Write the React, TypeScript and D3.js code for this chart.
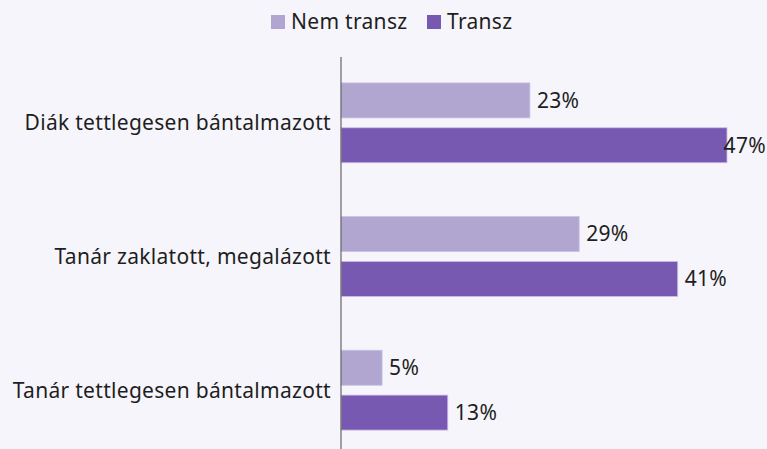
import * as d3 from 'd3';

const categories = ['Diák tettlegesen bántalmazott', 'Tanár zaklatott, megalázott', 'Tanár tettlegesen bántalmazott'];
const seriesNames = ['Nem transz', 'Transz'];
const nemTransz = [23, 29, 5];
const transz = [47, 41, 13];
const colors = ['#b0a6d0', '#7759b1'];

const width = 767;
const height = 449;
const font = "'Noto Sans', sans-serif";
const fs = 21;

export default function App() {
    const x = d3.scaleLinear([0, 47], [341, 727]);
    const y = d3.scaleBand(categories, [56, 457]).paddingInner(0).paddingOuter(0);
    const inner = d3.scaleBand(seriesNames, [0, y.bandwidth()]).paddingInner(0.22).paddingOuter(0.6);
    const values = [nemTransz, transz];

    // push label left when it would run off the right edge
    const labelPos = (v: number) => {
        const w = String(v).length * 12.5 + 20;
        const x0 = x(v) + 7;
        return x0 + w > width - 1 ? { x: width - 1, anchor: 'end' } : { x: x0, anchor: 'start' };
    };

    return (
        <svg width={width} height={height} style={{ position: 'absolute', left: 0, top: 0, background: '#f6f5fb', fontFamily: font, letterSpacing: 0.3 }}>
            <g transform="translate(271,22)">
                {seriesNames.map((s, i) => {
                    const off = i === 0 ? 0 : 156;
                    return (
                        <g key={s} transform={`translate(${off},0)`}>
                            <rect x={0} y={-7} width={14} height={14} fill={colors[i]} />
                            <text x={20} y={0} dy="0.35em" fontSize={fs} fill="#1e1e1e">{s}</text>
                        </g>
                    );
                })}
            </g>
            {categories.map((c, ci) => (
                <g key={c}>
                    <text x={331} y={(y(c) ?? 0) + y.bandwidth() / 2} dy="0.35em" textAnchor="end" fontSize={fs} fill="#1e1e1e">{c}</text>
                    {seriesNames.map((s, si) => {
                        const v = values[si][ci];
                        const by = (y(c) ?? 0) + (inner(s) ?? 0);
                        const lp = labelPos(v);
                        return (
                            <g key={s}>
                                <rect x={x(0)} y={by} width={x(v) - x(0)} height={inner.bandwidth()} fill={colors[si]} stroke="#c9c0e3" strokeWidth={0.8} />
                                <text x={lp.x} y={by + inner.bandwidth() / 2} dy="0.35em" textAnchor={lp.anchor} fontSize={fs} fill="#1e1e1e">{v}%</text>
                            </g>
                        );
                    })}
                </g>
            ))}
            <line x1={341} x2={341} y1={57} y2={height} stroke="#666" strokeWidth={1.2} />
        </svg>
    );
}
